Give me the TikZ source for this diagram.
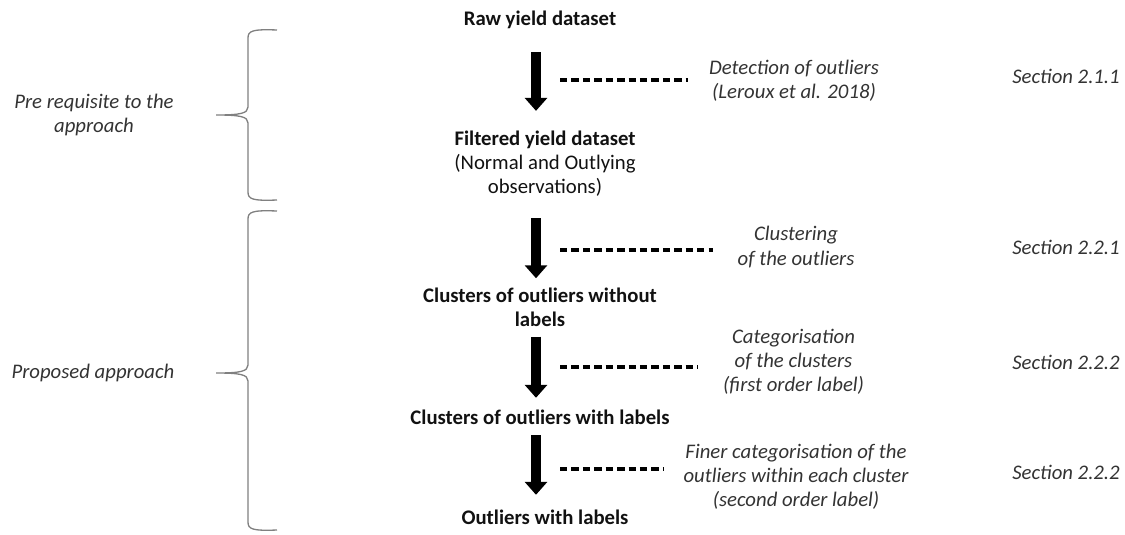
\documentclass[tikz,border=0pt]{standalone}
\usepackage{fontspec}
\setmainfont{Carlito}
\usetikzlibrary{arrows.meta}
\definecolor{boldblack}{HTML}{111111}
\definecolor{notegray}{HTML}{333333}
\definecolor{bracegray}{HTML}{808080}

\begin{document}
\begin{tikzpicture}[
  every node/.style={inner sep=0pt, font=\fontsize{11.8}{13.7}\selectfont},
  main/.style={align=center, text=boldblack},
  note/.style={align=center, text=notegray, font=\fontsize{11.8}{13.7}\selectfont\itshape},
  bigarrow/.style={line width=0.19cm, -{Triangle[width=0.44cm, length=0.26cm]}},
  dashln/.style={line width=1.9pt, dash pattern=on 4.2pt off 2.3pt},
  brace/.style={bracegray, line width=0.75pt}
 ]
  \useasboundingbox (0,0) rectangle (22.5,-10.68);

  \node[main] (raw) at (10.8,-0.4) {\textbf{Raw yield dataset}};
  \node[main] (filt) at (10.9,-3.28) {\textbf{Filtered yield dataset}\\(Normal and Outlying\\observations)};
  \node[main] (nolab) at (10.8,-6.14) {\textbf{Clusters of outliers without}\\\textbf{labels}};
  \node[main] (wlab) at (10.8,-8.35) {\textbf{Clusters of outliers with labels}};
  \node[main] (outl) at (10.9,-10.35) {\textbf{Outliers with labels}};

  \node[note] (det) at (15.88,-1.62) {Detection of outliers\\(Leroux et al. 2018)};
  \node[note] (clu) at (15.92,-4.94) {Clustering\\of the outliers};
  \node[note] (cat) at (15.87,-7.24) {Categorisation\\of the clusters\\(first order label)};
  \node[note] (fin) at (15.92,-9.53) {Finer categorisation of the\\outliers within each cluster\\(second order label)};

  \node[note] (sec1) at (21.32,-1.52) {Section 2.1.1};
  \node[note] (sec2) at (21.32,-4.94) {Section 2.2.1};
  \node[note] (sec3) at (21.32,-7.24) {Section 2.2.2};
  \node[note] (sec4) at (21.32,-9.44) {Section 2.2.2};

  \node[note] (pre) at (1.88,-2.3) {Pre requisite to the\\approach};
  \node[note] (prop) at (1.86,-7.46) {Proposed approach};

  \coordinate (ax) at (10.72,0);
  \foreach \a/\b/\s/\e in {raw/filt/0.46cm/0.4cm, filt/nolab/0.42cm/0.18cm, nolab/wlab/0.2cm/0.24cm, wlab/outl/0.2cm/0.3cm} {
   \draw[bigarrow, shorten <=\s, shorten >=\e] (\a.south -| ax) -- (\b.north -| ax);
  }

  \coordinate (ds1) at (11.2,-1.6);
  \coordinate (ds2) at (11.2,-5.0);
  \coordinate (ds3) at (11.2,-7.34);
  \coordinate (ds4) at (11.2,-9.38);
  \foreach \c/\n/\s in {ds1/det/0.42cm, ds2/clu/0.48cm, ds3/cat/0.5cm, ds4/fin/0.4cm} {
   \draw[dashln, shorten >=\s] (\c) -- (\c -| \n.west);
  }

  \foreach \ya/\ym/\yb in {-0.6/-2.3/-4.0, -4.22/-7.46/-10.6} {
   \draw[brace] (5.54,\ya) .. controls (5.04,\ya+0.02) and (4.96,\ya-0.02) .. (4.96,\ya-0.16)
    -- (4.96,\ym+0.16) .. controls (4.96,\ym+0.03) and (4.8,\ym) .. (4.32,\ym)
    .. controls (4.8,\ym) and (4.96,\ym-0.03) .. (4.96,\ym-0.16)
    -- (4.96,\yb+0.16) .. controls (4.96,\yb+0.02) and (5.04,\yb-0.02) .. (5.54,\yb);
  }
\end{tikzpicture}
\end{document}
